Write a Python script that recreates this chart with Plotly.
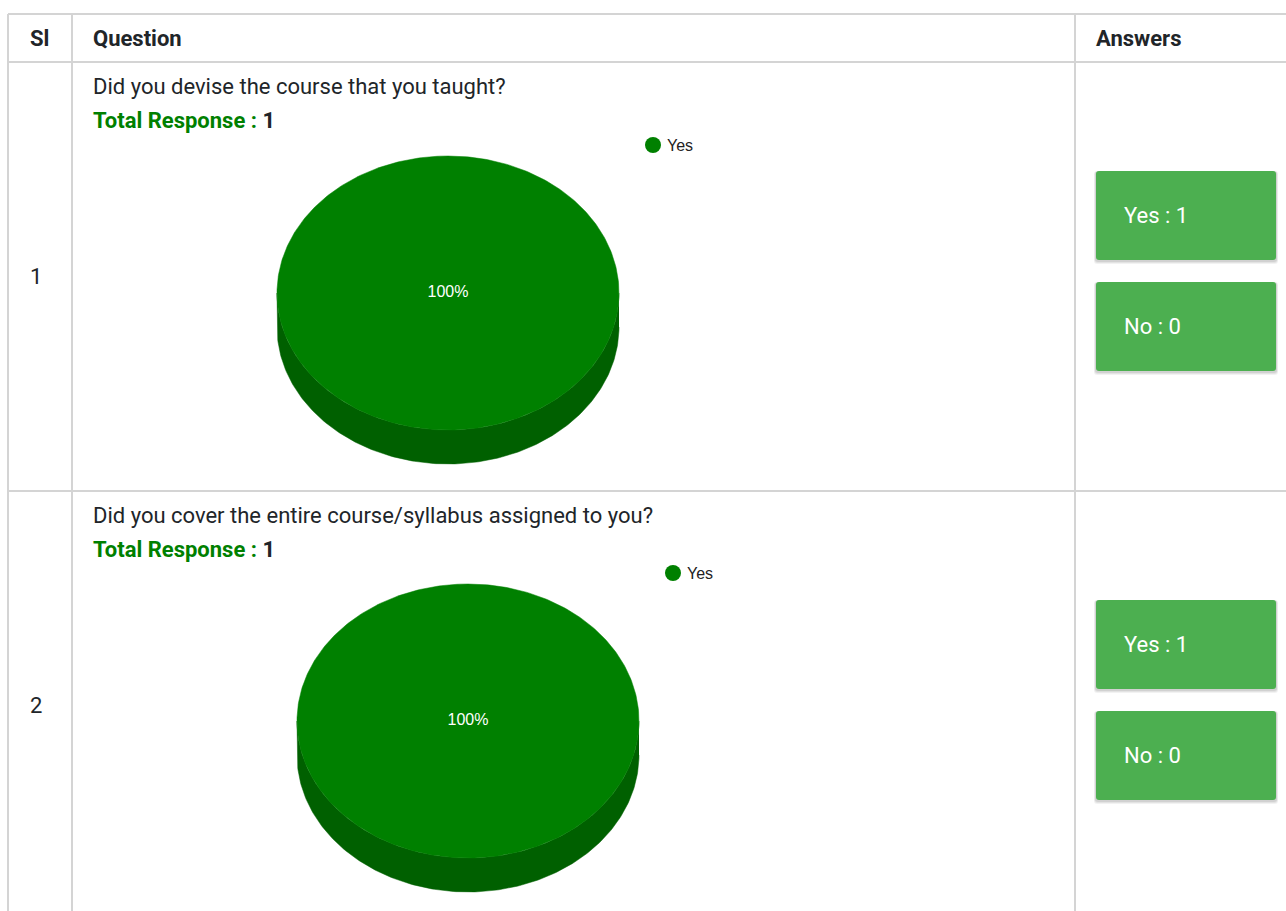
import numpy as np
import plotly.graph_objects as go

# ---------------- data ----------------
serial_numbers = ["1", "2"]
questions = [
    "Did you devise the course that you taught?",
    "Did you cover the entire course/syllabus assigned to you?",
]
answer_labels = ["Yes", "No"]
answer_counts_q1 = [1, 0]
answer_counts_q2 = [1, 0]
all_counts = [answer_counts_q1, answer_counts_q2]
header_labels = ["Sl", "Question", "Answers"]

# ---------------- styling / layout constants ----------------
W, H = 1286, 911
GRID = "#d4d4d4"
TEXT = "#212529"
GREEN = "#008000"
SLICE_TOP = ["#008000", "#dc3912"]
SLICE_SIDE = ["#006000", "#a52b0e"]
BOX = "#4caf50"
FS = 22

table_left, col1, col2 = 8, 72, 1075
table_top, header_bottom, row_bottom = 14, 62, 491
row_tops = [header_bottom, row_bottom]
pie_centers = [(448, 293), (468, 721)]
RX, RY, DEPTH = 171, 137, 34

fig = go.Figure()
shapes = []
annotations = []


def line(x0, y0, x1, y1):
    shapes.append(dict(type="line", x0=x0, y0=y0, x1=x1, y1=y1, xref="x", yref="y",
                       line=dict(color=GRID, width=2), layer="below"))


# table grid
line(table_left, table_top, W + 5, table_top)
line(table_left, header_bottom, W + 5, header_bottom)
line(table_left, row_bottom, W + 5, row_bottom)
line(table_left, table_top, table_left, H + 5)
line(col1, table_top, col1, H + 5)
line(col2, table_top, col2, H + 5)

# header
header_x = [28, 91, 1094]
for hx, lab in zip(header_x, header_labels):
    annotations.append(dict(x=hx, y=38, xref="x", yref="y", text="<b>" + lab + "</b>",
                            showarrow=False, xanchor="left", yanchor="middle",
                            font=dict(family="Roboto", size=FS, color=TEXT)))


def rounded_rect(x0, y0, x1, y1, r):
    return (f"M {x0+r},{y0} L {x1-r},{y0} Q {x1},{y0} {x1},{y0+r} "
            f"L {x1},{y1-r} Q {x1},{y1} {x1-r},{y1} L {x0+r},{y1} "
            f"Q {x0},{y1} {x0},{y1-r} L {x0},{y0+r} Q {x0},{y0} {x0+r},{y0} Z")


def ell(cx, cy, t, dy=0.0):
    return cx + RX * np.cos(t), cy + RY * np.sin(t) + dy


for i, (sn, q, counts) in enumerate(zip(serial_numbers, questions, all_counts)):
    top = row_tops[i]
    cx, cy = pie_centers[i]
    total = sum(counts)

    # serial number
    annotations.append(dict(x=28, y=top + 214, xref="x", yref="y", text=sn, showarrow=False,
                            xanchor="left", yanchor="middle",
                            font=dict(family="Roboto", size=FS, color=TEXT)))
    # question text
    annotations.append(dict(x=91, y=top + 24, xref="x", yref="y", text=q, showarrow=False,
                            xanchor="left", yanchor="middle",
                            font=dict(family="Roboto", size=FS, color=TEXT)))
    annotations.append(dict(x=91, y=top + 58, xref="x", yref="y",
                            text=f"<b><span style='color:{GREEN}'>Total Response :</span> {total}</b>",
                            showarrow=False, xanchor="left", yanchor="middle",
                            font=dict(family="Roboto", size=FS, color=TEXT)))

    # 3D pie: sides first
    cum = 0.0
    slices = []
    for k, v in enumerate(counts):
        if v <= 0:
            continue
        t0 = -np.pi / 2 + 2 * np.pi * cum / total
        cum += v
        t1 = -np.pi / 2 + 2 * np.pi * cum / total
        slices.append((k, v, t0, t1))
    for k, v, t0, t1 in slices:
        a, b = max(t0, 0.0), min(t1, np.pi)
        if b > a:
            ts = np.linspace(a, b, 200)
            xt, yt = ell(cx, cy, ts)
            xb, yb = ell(cx, cy, ts[::-1], DEPTH)
            fig.add_trace(go.Scatter(x=np.r_[xt, xb], y=np.r_[yt, yb], fill="toself",
                                     fillcolor=SLICE_SIDE[k], mode="lines",
                                     line=dict(width=0.5, color=SLICE_SIDE[k]),
                                     hoverinfo="skip", showlegend=False))
    for k, v, t0, t1 in slices:
        ts = np.linspace(t0, t1, 400)
        xt, yt = ell(cx, cy, ts)
        if v == total:
            xs, ys = xt, yt
        else:
            xs, ys = np.r_[cx, xt, cx], np.r_[cy, yt, cy]
        fig.add_trace(go.Scatter(x=xs, y=ys, fill="toself", fillcolor=SLICE_TOP[k],
                                 mode="lines", line=dict(width=0.5, color=SLICE_TOP[k]),
                                 hoverinfo="skip", showlegend=False))
        pct = f"{100 * v / total:.0f}%"
        if v == total:
            lx, ly = cx, cy
        else:
            tm = (t0 + t1) / 2
            lx, ly = cx + 0.6 * RX * np.cos(tm), cy + 0.6 * RY * np.sin(tm)
        fig.add_trace(go.Scatter(x=[lx], y=[ly], mode="text", text=[pct],
                                 textfont=dict(family="Liberation Sans, Arial", size=16,
                                               color="white"),
                                 hoverinfo="skip", showlegend=False))

    # legend (only non-zero categories)
    lgx, lgy = cx + 205, cy - 148
    for k, v, t0, t1 in slices:
        fig.add_trace(go.Scatter(x=[lgx], y=[lgy], mode="markers",
                                 marker=dict(size=16, color=SLICE_TOP[k]),
                                 hoverinfo="skip", showlegend=False))
        annotations.append(dict(x=lgx + 12, y=lgy, xref="x", yref="y", text=answer_labels[k],
                                showarrow=False, xanchor="left", yanchor="middle",
                                font=dict(family="Liberation Sans, Arial", size=16,
                                          color="#222222")))
        lgy += 24

    # answer boxes
    for j, (lab, c) in enumerate(zip(answer_labels, counts)):
        y0 = top + 109 + j * 111
        y1 = y0 + 89
        x0, x1 = 1096, 1276
        for s, alpha in [(4, 0.05), (3, 0.06), (2, 0.08)]:
            shapes.append(dict(type="path", path=rounded_rect(x0 - s / 2, y0 - s / 4 + 1, x1 + s / 2, y1 + s, 3),
                               xref="x", yref="y", fillcolor=f"rgba(0,0,0,{alpha})",
                               line=dict(width=0), layer="below"))
        shapes.append(dict(type="path", path=rounded_rect(x0, y0, x1, y1, 3), xref="x", yref="y",
                           fillcolor=BOX, line=dict(width=0), layer="above"))
        annotations.append(dict(x=x0 + 26, y=(y0 + y1) / 2, xref="x", yref="y",
                                text=f"{lab} : {c}", showarrow=False, xanchor="left",
                                yanchor="middle",
                                font=dict(family="Roboto", size=FS, color="white")))

fig.update_layout(
    width=W, height=H, margin=dict(l=0, r=0, t=0, b=0),
    paper_bgcolor="white", plot_bgcolor="white",
    xaxis=dict(range=[0, W], visible=False, fixedrange=True),
    yaxis=dict(range=[H, 0], visible=False, fixedrange=True),
    shapes=shapes, annotations=annotations, showlegend=False,
)

fig.write_html("out.html", config={"displayModeBar": False},
               post_script="document.body.style.margin='0';document.body.style.overflow='hidden';")
